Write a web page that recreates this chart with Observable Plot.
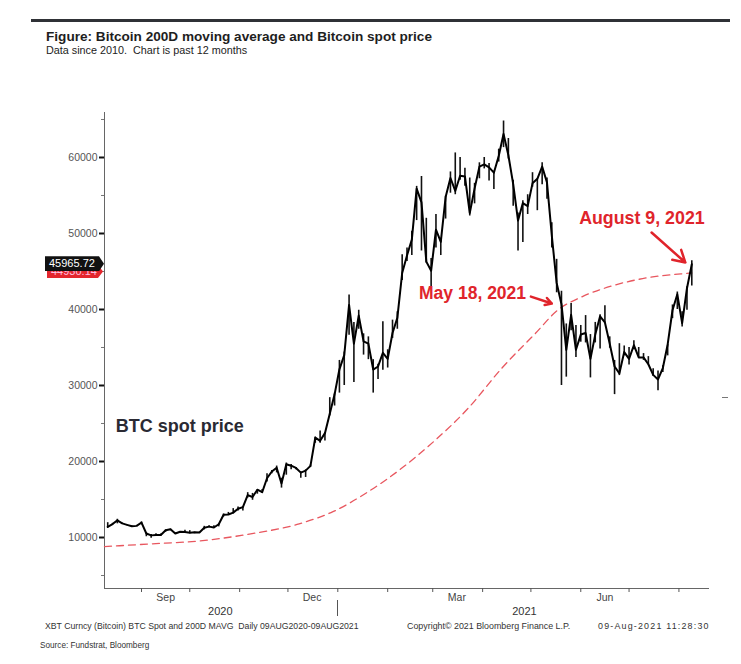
<!DOCTYPE html>
<html><head><meta charset="utf-8">
<script src="https://cdn.jsdelivr.net/npm/d3@7"></script>
<script src="https://cdn.jsdelivr.net/npm/@observablehq/plot@0.6"></script>
<style>
body{margin:0;background:#fff;font-family:"Liberation Sans",Arial,sans-serif;}
#wrap{position:relative;width:741px;height:664px;overflow:hidden;background:#fff;}
.abs{position:absolute;white-space:pre;}
#plot{position:absolute;left:0;top:60px;}
</style></head><body><div id="wrap">
<div class="abs" style="left:31px;top:19px;width:699px;height:3px;background:#2f3136"></div>
<div class="abs" style="left:46px;top:29px;font-weight:bold;font-size:13.6px;color:#1e1e1e">Figure: Bitcoin 200D moving average and Bitcoin spot price</div>
<div class="abs" style="left:46px;top:44px;font-size:10.8px;color:#222">Data since 2010.  Chart is past 12 months</div>
<div id="plot"></div>
<div class="abs" style="left:45px;top:621px;font-size:8.7px;color:#333">XBT Curncy (Bitcoin) BTC Spot and 200D MAVG  Daily 09AUG2020-09AUG2021</div>
<div class="abs" style="left:407px;top:621px;font-size:8.9px;color:#333">Copyright© 2021 Bloomberg Finance L.P.</div>
<div class="abs" style="left:598px;top:621px;font-size:8.9px;letter-spacing:1.2px;color:#333">09-Aug-2021 11:28:30</div>
<div class="abs" style="left:40px;top:641px;font-size:8.2px;color:#333">Source: Fundstrat, Bloomberg</div>
<div class="abs" style="left:722px;top:397px;width:6px;height:1px;background:#777"></div>
</div>
<script>
// ---- data (BTC spot, sampled every 3 days from 2020-08-11 to 2021-08-09) ----
const startDate = "2020-08-11";
const stepDays = 3;
const closes = [11390,11770,12250,11860,11660,11480,11530,11970,10530,10280,
10340,10330,10950,11080,10520,10750,10720,10620,10680,10670,
11290,11430,11320,11740,12990,13030,13270,13780,14000,15580,
15330,16290,15960,17800,18680,19170,17100,19630,19450,19150,
18540,18800,19420,23150,22720,23730,26270,28840,32130,33990,
40600,35500,39200,35800,35500,32100,32500,34300,33500,36900,
38900,44800,47100,49200,55900,54100,46300,45100,50500,48900,
54800,57300,55600,57600,57500,52700,55900,58800,59100,58700,
58000,60200,63100,60300,56500,51700,54000,53600,56600,57200,
58800,56700,49700,43500,40700,34700,39300,34700,36700,36900,
33500,36700,39100,38300,35500,32500,31600,34400,33500,35300,
33700,33700,32800,31400,30800,32300,35400,39900,42000,38200,
42800,45965.72];
const lows = [11250,11600,11800,11700,11560,11300,11450,11680,10100,9900,
10200,10200,10700,10900,10400,10600,10700,10500,10500,10600,
11000,11300,11250,11400,12700,12900,13100,13500,13500,15200,
14900,15700,15800,17300,18400,18500,16500,18200,18900,18900,
17800,17900,19200,22400,22400,22700,26000,27300,29000,30000,
36600,30400,37400,34000,33400,29000,30800,32000,32300,36200,
37400,43800,46300,47100,51700,47700,46100,43000,48100,47100,
51900,55300,55100,57000,56200,52300,53900,57200,58500,56900,
55800,59400,61300,59800,53600,47700,48800,52500,56100,53000,
56400,54500,48100,42200,30000,31100,37200,33700,35700,35600,
31000,35600,34800,38200,34900,28800,31300,33900,32700,34700,
33700,33300,32700,31200,29300,31700,33900,38800,40000,37700,
39900,43100];
const highs = [11950,11860,12400,11900,11700,11500,11590,12050,10600,10400,
10500,10450,11000,11100,10560,10780,10950,10900,10700,10700,
11470,11550,11550,11790,13100,13300,13800,14000,14050,15900,
15800,16300,16300,18400,18800,19400,17800,19800,19600,19200,
18650,18900,19550,23200,24000,23800,28400,29000,33300,34400,
41900,38300,39900,36800,36400,33400,32800,38400,34700,38600,
39700,47200,48100,50300,56200,57500,52000,46700,52500,49200,
54900,58100,60600,60000,58600,57300,56600,59300,60000,59200,
58100,61100,64800,62500,57000,52700,54300,55100,58000,57200,
59300,57300,51400,46600,42400,38100,40800,37900,37900,39200,
36700,38300,39300,40500,36400,33300,35500,35200,35000,35900,
35000,34200,33800,32200,31900,32600,35400,40600,42300,39700,
43000,46400];
// 200D moving average
const maDates = ["2020-08-09","2020-09-06","2020-10-07","2020-11-07","2020-12-08","2020-12-29","2021-01-19","2021-02-09","2021-03-02","2021-03-23","2021-04-13","2021-05-04","2021-05-17","2021-06-02","2021-06-22","2021-07-13","2021-08-03","2021-08-09"];
const maValues = [8800,9150,9550,10450,11800,13400,15900,19000,22700,27000,32300,36900,39800,41700,43200,44200,44700,44800];
const lastSpot = 45965.72, lastMA = 44930.14;
// axis ticks / labels
const xDomain = ["2020-08-09","2021-08-20"];
const yDomain = [3290, 65920];
const yMajor = [10000,20000,30000,40000,50000,60000];
const yMinor = [5000,15000,25000,35000,45000,55000,65000];
const monthTicks = ["2020-09-01","2020-10-01","2020-11-01","2020-12-01","2021-01-01","2021-02-01","2021-03-01","2021-04-01","2021-05-01","2021-06-01","2021-07-01","2021-08-01"];
const monthLabelDates = ["2020-09-16","2020-12-16","2021-03-16","2021-06-16"];
const monthLabels = ["Sep","Dec","Mar","Jun"];
const yearLabelDates = ["2020-10-20","2021-04-27"];
const yearLabels = ["2020","2021"];
const yearBreak = "2021-01-01";
// annotations
const annLabels = ["BTC spot price","May 18, 2021","August 9, 2021"];
const annDates = ["2020-08-16","2021-04-28","2021-07-09"];
const annValues = [24700, 42100, 51970];
const arrowFrom = [["2021-05-01",41700],["2021-07-15",50130]];
const arrowTo = [["2021-05-14",40790],["2021-08-05",46180]];

// ---- build ----
const P = s => new Date(s + "T00:00:00Z");
const t0 = P(startDate);
const spot = closes.map((c,i)=>({date:d3.utcDay.offset(t0, stepDays*i), close:c, low:lows[i], high:highs[i]}));
const ma = maDates.map((d,i)=>({date:P(d), value:maValues[i]}));
const ann = annLabels.map((t,i)=>({label:t, date:P(annDates[i]), value:annValues[i]}));
const arrows = arrowFrom.map((f,i)=>({x1:P(f[0]), y1:f[1], x2:P(arrowTo[i][0]), y2:arrowTo[i][1]}));
const red = "#e0242b";

const chart = Plot.plot({
  width:741, height:560, marginLeft:104, marginRight:32, marginTop:52, marginBottom:32,
  x:{type:"utc", domain:xDomain.map(P)},
  y:{domain:yDomain},
  style:{fontFamily:"Liberation Sans, Arial, sans-serif", fontSize:"10.5px", background:"transparent", overflow:"visible"},
  marks:[
    Plot.ruleX([P(xDomain[0])], {stroke:"#666", strokeWidth:1}),
    Plot.ruleY([yDomain[0]], {stroke:"#666", strokeWidth:1}),
    Plot.axisY({ticks:yMajor, tickSize:5, tickPadding:2, tickFormat:d3.format("d"), stroke:"#111", strokeWidth:2, fill:"#555", label:null}),
    Plot.axisY({ticks:yMinor, tickSize:3, tickFormat:()=>"", stroke:"#777", strokeWidth:1, label:null}),
    Plot.axisX({ticks:monthTicks.map(P), tickSize:4, tickFormat:()=>"", stroke:"#555", label:null}),
    Plot.axisX({ticks:monthLabelDates.map(P), tickSize:0, tickPadding:5, tickFormat:(d,i)=>monthLabels[i], fill:"#444", fontSize:10.5, label:null}),
    Plot.axisX({ticks:yearLabelDates.map(P), tickSize:0, tickPadding:19, tickFormat:(d,i)=>yearLabels[i], fill:"#333", fontSize:11, label:null}),
    Plot.line(ma, {x:"date", y:"value", stroke:"#e8575f", strokeWidth:1.3, strokeDasharray:"7,5", curve:"monotone-x"}),
    Plot.ruleX(spot, {x:"date", y1:"low", y2:"high", stroke:"#111", strokeWidth:1.6}),
    Plot.line(spot, {x:"date", y:"close", stroke:"#000", strokeWidth:2}),
    Plot.text(ann.slice(0,1), {x:"date", y:"value", text:"label", textAnchor:"start", fontSize:18, fontWeight:"bold", fill:"#2a2a33"}),
    Plot.text(ann.slice(1,2), {x:"date", y:"value", text:"label", textAnchor:"end", fontSize:17.5, fontWeight:"bold", fill:red}),
    Plot.text(ann.slice(2,3), {x:"date", y:"value", text:"label", textAnchor:"middle", fontSize:17.8, fontWeight:"bold", fill:red}),
    Plot.arrow(arrows, {x1:"x1", y1:"y1", x2:"x2", y2:"y2", stroke:red, strokeWidth:2.5, headLength:8})
  ]
});
document.getElementById("plot").appendChild(chart);

// last-value boxes & year separator, positioned through the scales
const wrap = document.getElementById("wrap");
const top0 = 60;
const ys = chart.scale("y"), xs = chart.scale("x");
function box(v, txt, bg, fg, h, left, w, z){
  const d = document.createElement("div");
  d.className = "abs";
  const cy = top0 + ys.apply(v);
  d.style.cssText += `left:${left}px;top:${cy - h/2}px;width:${w}px;height:${h}px;background:${bg};color:${fg};font-size:11px;line-height:${h}px;padding-left:4px;box-sizing:border-box;z-index:${z};overflow:hidden;clip-path:polygon(0 0,calc(100% - 5px) 0,100% 50%,calc(100% - 5px) 100%,0 100%);`;
  d.textContent = txt;
  wrap.appendChild(d);
}
box(lastMA, d3.format(".2f")(lastMA), "#e3262d", "#fbd", 13, 47, 56, 1);
box(lastSpot, d3.format(".2f")(lastSpot), "#111", "#fff", 15, 45, 59, 2);
const sep = document.createElement("div");
sep.className = "abs";
sep.style.cssText += `left:${Math.round(xs.apply(P(yearBreak)))}px;top:${top0 + 540}px;width:1px;height:16px;background:#555;`;
wrap.appendChild(sep);
</script></body></html>
